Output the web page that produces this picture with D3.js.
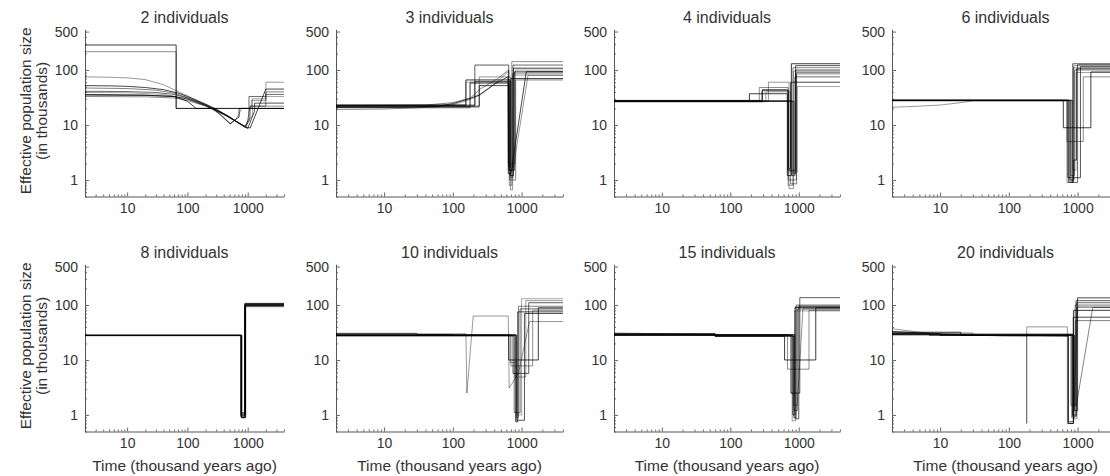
<!DOCTYPE html>
<html>
<head>
<meta charset="utf-8">
<script src="https://cdnjs.cloudflare.com/ajax/libs/d3/7.8.5/d3.min.js"></script>
<style>
    body { margin: 0; background: #fff; }
    text { font-family: "Liberation Sans", Arial, sans-serif; fill: #333; }
</style>
</head>
<body>
<div id="chart"></div>
<script>
var panelTitles = ["2 individuals", "3 individuals", "4 individuals", "6 individuals",
    "8 individuals", "10 individuals", "15 individuals", "20 individuals"];
var xTickValues = [10, 100, 1000];
var yTickValues = [1, 10, 100, 500];
var xLabel = "Time (thousand years ago)";
var yLabelLines = ["Effective population size", "(in thousands)"];

// runs as [time (kya), Ne (thousands)]; "steps" hold value until next time, "curves" are joined straight
var steps2 = [
    [[2, 285], [65, 20], [4000, 20]],
    [[2, 215], [65, 20], [4000, 20]]
];
var curves2 = [
    [[2, 75], [5, 74], [10, 72], [20, 67], [40, 54], [65, 42], [100, 34], [200, 23], [370, 15], [520, 10.5], [650, 13], [800, 20], [1150, 20], [1150, 28], [2000, 28], [2000, 60], [4000, 60]],
    [[2, 52], [5, 51.5], [10, 50.5], [20, 48], [40, 44], [70, 38], [100, 33], [150, 27.5], [200, 24], [300, 19.5], [500, 14], [700, 11], [900, 9.2], [1100, 8.8], [2000, 45], [4000, 45]],
    [[2, 47], [10, 46], [30, 43], [60, 38], [100, 31.5], [200, 23.5], [400, 16], [700, 11], [950, 9], [1100, 22], [2000, 22], [2000, 40], [4000, 40]],
    [[2, 41], [10, 40.5], [30, 39], [60, 36], [100, 31], [200, 23], [400, 16], [700, 11], [900, 9.4], [1050, 12], [1050, 33], [2000, 33], [2000, 36], [4000, 36]],
    [[2, 39], [10, 38.5], [40, 36], [100, 30], [200, 22.5], [400, 15.5], [600, 12], [900, 9], [1200, 15], [1200, 30], [2000, 30], [2000, 33], [4000, 33]],
    [[2, 36], [20, 35], [60, 33], [100, 29.5], [200, 22.5], [400, 15.5], [700, 11], [1000, 8.6], [1300, 18], [1300, 25], [4000, 25]],
    [[2, 33], [20, 32.5], [60, 31], [100, 28], [200, 22], [300, 19], [500, 14], [700, 11], [900, 9.5], [1100, 14], [1100, 22], [4000, 22]],
    [[2, 35], [20, 34.5], [60, 33], [100, 27], [140, 20], [270, 20], [510, 10.5], [720, 14], [720, 20], [4000, 20]]
];

var steps3 = [
    [[2, 22.5], [155, 66], [680, 1.2], [760, 108], [4000, 108]],
    [[2, 21.5], [178, 57], [660, 0.8], [720, 142], [4000, 142]],
    [[2, 23], [209, 123], [650, 1.5], [790, 93], [4000, 93]],
    [[2, 21], [242, 75], [690, 0.66], [740, 81], [4000, 81]],
    [[2, 22], [242, 52], [650, 1.8], [700, 70], [4000, 70]],
    [[2, 20.5], [178, 60], [670, 1.0], [820, 66], [4000, 66]],
    [[2, 22], [209, 62], [700, 1.1], [750, 123], [4000, 123]],
    [[2, 23.5], [155, 60], [640, 2.0], [810, 100], [4000, 100]]
];
var curves3 = [
    [[2, 19], [10, 19.5], [30, 20.5], [60, 21.5], [100, 23.5], [150, 27], [200, 31], [260, 36], [400, 55], [650, 95], [660, 1.7], [760, 1.7], [1240, 80], [4000, 80]],
    [[2, 21], [20, 21], [60, 22], [100, 24.5], [160, 29], [240, 35], [400, 55], [630, 75], [640, 1.3], [700, 1.3], [1170, 93], [4000, 93]],
    [[2, 22.5], [40, 23], [100, 25.5], [180, 31], [250, 45], [450, 70], [650, 100], [660, 1.5], [740, 1.5], [750, 88], [4000, 88]]
];

var steps4 = [
    [[2, 27], [190, 37], [680, 1.2], [780, 130], [4000, 130]],
    [[2, 27.5], [265, 48], [700, 0.8], [820, 110], [4000, 110]],
    [[2, 26.5], [295, 44], [690, 1.5], [900, 100], [4000, 100]],
    [[2, 27], [360, 60], [720, 0.7], [840, 95], [4000, 95]],
    [[2, 28], [290, 42], [710, 1.6], [760, 60], [4000, 60]],
    [[2, 27], [760, 0.85], [930, 85], [4000, 85]],
    [[2, 27.5], [800, 1.2], [880, 75], [4000, 75]],
    [[2, 26.5], [330, 40], [750, 1.4], [950, 50], [4000, 50]],
    [[2, 27], [850, 1.3], [900, 120], [4000, 120]],
    [[2, 27.2], [700, 1.0], [920, 90], [4000, 90]]
];
var curves4 = [];

var steps6 = [
    [[2, 28], [620, 8.9], [1560, 92], [4000, 92]],
    [[2, 28], [700, 5], [1210, 75], [4000, 75]],
    [[2, 28.5], [740, 0.9], [850, 130], [4000, 130]],
    [[2, 28], [760, 0.95], [880, 120], [4000, 120]],
    [[2, 27.8], [780, 1.0], [880, 2.3], [960, 105], [4000, 105]],
    [[2, 28], [800, 1.2], [900, 100], [4000, 100]],
    [[2, 28.2], [830, 0.9], [1000, 125], [4000, 125]],
    [[2, 28], [850, 1.5], [950, 90], [4000, 90]],
    [[2, 27.6], [720, 1.1], [1100, 115], [4000, 115]]
];
var curves6 = [
    [[2, 21], [5, 22], [10, 23], [20, 25.5], [30, 27.5], [700, 27.5], [700, 0.9], [870, 0.9], [870, 110], [4000, 110]]
];

var steps8 = [
    [[2, 28], [780, 0.9], [900, 100], [4000, 100]],
    [[2, 28.2], [770, 0.95], [890, 96], [4000, 96]],
    [[2, 27.8], [790, 1.0], [910, 104], [4000, 104]],
    [[2, 28], [800, 0.88], [920, 93], [4000, 93]],
    [[2, 28.1], [785, 1.1], [905, 107], [4000, 107]],
    [[2, 27.9], [775, 0.92], [895, 98], [4000, 98]],
    [[2, 28], [795, 1.05], [915, 102], [4000, 102]],
    [[2, 28.3], [780, 0.97], [900, 95], [4000, 95]],
    [[2, 27.7], [790, 0.9], [925, 99], [4000, 99]],
    [[2, 28], [770, 1.0], [885, 105], [4000, 105]]
];
var curves8 = [];

var steps10 = [
    [[2, 28], [650, 10], [1750, 89], [4000, 89]],
    [[2, 28.5], [700, 7.8], [1450, 80], [4000, 80]],
    [[2, 27.5], [750, 5.7], [1270, 110], [4000, 110]],
    [[2, 28], [800, 4.9], [1150, 120], [4000, 120]],
    [[2, 29], [820, 0.75], [880, 75], [4000, 75]],
    [[2, 28], [840, 0.9], [900, 95], [4000, 95]],
    [[2, 27.5], [780, 1.1], [950, 85], [4000, 85]],
    [[2, 28.2], [680, 9], [850, 1.0], [1000, 130], [4000, 130]],
    [[2, 30.5], [30, 29], [100, 28], [850, 0.8], [1100, 70], [4000, 70]]
];
var curves10 = [
    [[2, 30], [155, 30], [160, 2.5], [198, 63], [640, 63], [660, 3.1], [900, 5.7], [1300, 50], [4000, 50]]
];

var steps15 = [
    [[2, 30], [60, 27], [620, 10], [1770, 89], [4000, 89]],
    [[2, 29], [685, 6.8], [1410, 80], [4000, 80]],
    [[2, 28.5], [766, 2.5], [1035, 136], [4000, 136]],
    [[2, 30], [60, 27.5], [800, 0.78], [900, 95], [4000, 95]],
    [[2, 28], [820, 1.0], [880, 90], [4000, 90]],
    [[2, 28.5], [840, 0.9], [920, 100], [4000, 100]],
    [[2, 29.5], [60, 27], [860, 1.2], [950, 85], [4000, 85]],
    [[2, 28], [790, 2.4], [870, 78], [4000, 78]],
    [[2, 29], [880, 0.85], [1000, 95], [4000, 95]]
];
var curves15 = [
    [[2, 31], [10, 30], [30, 29], [60, 28], [60, 27], [840, 27], [840, 1.5], [950, 1.5], [1150, 85], [4000, 85]]
];

var steps20 = [
    [[2, 30], [10, 28], [730, 0.7], [870, 80], [4000, 80]],
    [[2, 31], [30, 28], [820, 0.9], [920, 100], [4000, 100]],
    [[2, 29], [850, 1.0], [950, 120], [4000, 120]],
    [[2, 30], [870, 0.85], [980, 90], [4000, 90]],
    [[2, 32], [20, 28], [900, 1.2], [1000, 135], [4000, 135]],
    [[2, 28.5], [880, 1.5], [930, 52], [4000, 52]],
    [[2, 30.5], [7, 28], [840, 0.95], [960, 110], [4000, 110]]
];
var curves20 = [
    [[2, 37], [5, 32], [10, 30], [30, 28.5], [80, 27.5], [182, 27.5], [182, 0.7], [182, 40], [710, 40], [710, 0.7], [870, 0.7], [1000, 95], [4000, 95]],
    [[2, 33], [5, 31], [10, 29.5], [30, 28], [731, 27], [731, 0.75], [866, 0.75], [866, 60], [4000, 60]],
    [[2, 29], [800, 29], [800, 1.5], [960, 1.5], [1660, 90], [4000, 90]]
];

var panels = [
    { steps: steps2, curves: curves2 },
    { steps: steps3, curves: curves3 },
    { steps: steps4, curves: curves4 },
    { steps: steps6, curves: curves6 },
    { steps: steps8, curves: curves8 },
    { steps: steps10, curves: curves10 },
    { steps: steps15, curves: curves15 },
    { steps: steps20, curves: curves20 }
];

var colLeft = [85, 336, 614, 892];
var colWidth = [199, 227, 226, 227];
var rowTop = [29.3, 264.3];
var plotHeight = 167.2;
var opacities = [0.85, 0.5, 0.7, 0.45, 0.8, 0.55, 0.65, 0.4, 0.75, 0.5];

var svg = d3.select("#chart").append("svg")
    .attr("width", 1110)
    .attr("height", 476);

// minor ticks: every integer multiple inside each decade
function minorTicks(lo, hi) {
    var out = [];
    for (var p = -1; p <= 3; p++) {
        for (var m = 1; m < 10; m++) {
            var v = m * Math.pow(10, p);
            if (v >= lo && v <= hi) out.push(v);
        }
    }
    return out;
}

panels.forEach(function (panel, i) {
    var col = i % 4;
    var row = Math.floor(i / 4);
    var left = colLeft[col];
    var top = rowTop[row];
    var w = colWidth[col];

    var x = d3.scaleLog().domain([2, 4000]).range([0, w]);
    var y = d3.scaleLog().domain([0.5, 550]).range([plotHeight, 0]);

    var g = svg.append("g")
        .attr("transform", "translate(" + left + "," + top + ")");

    // minor ticks
    g.append("g")
        .attr("transform", "translate(0," + plotHeight + ")")
        .call(d3.axisBottom(x).tickValues(minorTicks(2, 4000).filter(function (v) { return xTickValues.indexOf(v) < 0; }))
            .tickSize(-2).tickSizeOuter(0).tickFormat(""))
        .call(function (a) { a.select(".domain").remove(); });
    g.append("g")
        .call(d3.axisLeft(y).tickValues(minorTicks(0.5, 500).filter(function (v) { return yTickValues.indexOf(v) < 0; }))
            .tickSize(-2).tickSizeOuter(0).tickFormat(""))
        .call(function (a) { a.select(".domain").remove(); });

    var xAxis = g.append("g")
        .attr("transform", "translate(0," + plotHeight + ")")
        .call(d3.axisBottom(x).tickValues(xTickValues).tickSize(-4).tickSizeOuter(0)
            .tickPadding(7).tickFormat(d3.format("d")));
    var yAxis = g.append("g")
        .call(d3.axisLeft(y).tickValues(yTickValues).tickSize(-4).tickSizeOuter(0)
            .tickPadding(7).tickFormat(d3.format("d")));

    [xAxis, yAxis].forEach(function (a) {
        a.selectAll("text").style("font-size", "14px").attr("fill", "#333");
        a.selectAll("text").style("font-family", '"Liberation Sans", Arial, sans-serif');
    });
    svg.selectAll(".domain").attr("stroke", "#555");
    svg.selectAll(".tick line").attr("stroke", "#666");

    g.append("clipPath").attr("id", "clip" + i)
        .append("rect").attr("width", w).attr("height", plotHeight);

    var stepLine = d3.line()
        .x(function (d) { return x(d[0]); })
        .y(function (d) { return y(d[1]); })
        .curve(d3.curveStepAfter);
    var straightLine = d3.line()
        .x(function (d) { return x(d[0]); })
        .y(function (d) { return y(d[1]); });

    var runs = g.append("g").attr("clip-path", "url(#clip" + i + ")");

    runs.selectAll(".step")
        .data(panel.steps)
        .enter()
        .append("path")
        .attr("class", "step")
        .attr("d", stepLine)
        .attr("fill", "none")
        .attr("stroke", "#000")
        .attr("stroke-width", 0.9)
        .attr("stroke-opacity", function (d, j) { return opacities[j % opacities.length]; });

    runs.selectAll(".curve")
        .data(panel.curves)
        .enter()
        .append("path")
        .attr("class", "curve")
        .attr("d", straightLine)
        .attr("fill", "none")
        .attr("stroke", "#000")
        .attr("stroke-width", 0.9)
        .attr("stroke-opacity", function (d, j) { return opacities[(j + 3) % opacities.length]; });

    g.append("text")
        .attr("x", w / 2)
        .attr("y", -6.5)
        .attr("text-anchor", "middle")
        .style("font-size", "16px")
        .text(panelTitles[i]);

    if (row === 1) {
        g.append("text")
            .attr("x", w / 2)
            .attr("y", plotHeight + 40)
            .attr("text-anchor", "middle")
            .style("font-size", "15.5px")
            .text(xLabel);
    }

    if (col === 0) {
        var lab = g.append("text")
            .attr("transform", "translate(" + (-54) + "," + (plotHeight / 2 - 2) + ") rotate(-90)")
            .attr("text-anchor", "middle")
            .style("font-size", "15.5px");
        lab.append("tspan").attr("x", 0).attr("y", 0).text(yLabelLines[0]);
        lab.append("tspan").attr("x", 0).attr("y", 16).text(yLabelLines[1]);
    }
});
</script>
</body>
</html>
